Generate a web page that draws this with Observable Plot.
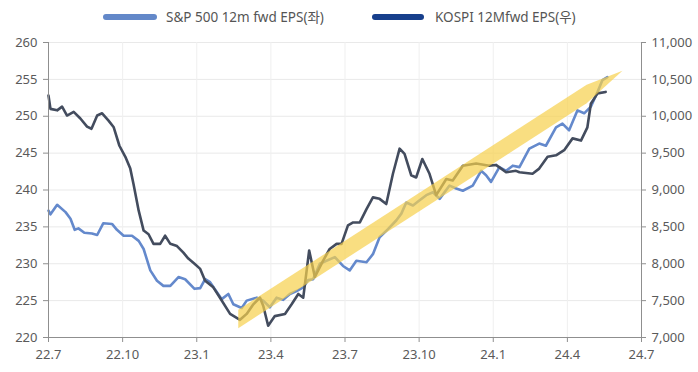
<!DOCTYPE html>
<html><head><meta charset="utf-8">
<script src="https://cdn.jsdelivr.net/npm/d3@7"></script>
<script src="https://cdn.jsdelivr.net/npm/@observablehq/plot@0.6"></script>
<style>
body{margin:0;background:#fff;font-family:"Noto Sans","Noto Sans CJK KR",sans-serif;}
#wrap{position:relative;width:698px;height:372px;overflow:hidden;}
#legend{position:absolute;left:0;top:0;width:698px;height:32px;}
.sw{position:absolute;top:14px;height:6px;border-radius:3px;}
.lt{position:absolute;top:8px;font-size:13.5px;color:#555;line-height:18px;white-space:nowrap;}
#chart{position:absolute;left:0;top:30px;}
</style></head>
<body><div id="wrap"><div id="legend"></div><div id="chart"></div></div>
<script>
// x values: months since 2022-07 (22.7 = 0)
const spMonths = [0,0.08,0.35,0.69,0.89,1.06,1.21,1.45,1.76,1.97,2.22,2.57,2.77,3.04,3.38,3.65,3.85,4.12,4.39,4.65,4.93,5.26,5.53,5.91,6.14,6.34,6.54,7.01,7.28,7.48,7.82,8.02,8.43,8.69,8.96,9.23,9.50,9.77,10.04,10.31,10.51,10.71,10.98,11.25,11.59,11.92,12.19,12.46,12.87,13.13,13.40,13.74,14.08,14.28,14.48,14.75,15.02,15.29,15.56,15.83,16.23,16.50,16.77,17.17,17.51,17.71,17.91,18.25,18.52,18.79,19.06,19.46,19.86,20.13,20.54,20.80,21.07,21.41,21.68,21.95,22.22,22.42,22.62];
const spEPS = [237.2,236.7,238.0,237.0,236.1,234.6,234.8,234.2,234.1,233.9,235.5,235.4,234.6,233.8,233.8,233.1,232.0,229.1,227.7,227.0,227.0,228.2,227.9,226.6,226.7,227.9,227.5,225.2,225.9,224.5,224.0,225.0,225.4,225.0,224.1,225.4,225.1,225.9,226.3,226.8,227.8,227.9,230.0,230.4,230.9,229.7,229.1,230.4,230.2,231.3,233.6,234.7,235.9,236.8,238.3,237.9,238.6,239.3,239.7,238.8,240.6,240.2,239.9,240.6,242.6,242.0,241.1,243.1,242.6,243.3,243.1,245.6,246.3,246.0,248.5,249.0,248.1,250.8,250.4,251.3,253.3,254.9,255.3];
const kospiMonths = [0,0.08,0.35,0.55,0.75,1.02,1.29,1.56,1.74,1.97,2.17,2.43,2.64,2.87,3.11,3.31,3.44,3.65,3.85,4.05,4.25,4.52,4.72,4.93,5.20,5.46,5.66,5.91,6.14,6.34,6.67,6.94,7.35,7.75,8.02,8.29,8.56,8.69,8.89,9.16,9.57,9.84,10.11,10.31,10.55,10.78,11.11,11.38,11.66,11.86,12.12,12.33,12.60,12.87,13.13,13.40,13.67,13.94,14.21,14.41,14.68,14.88,15.13,15.42,15.69,16.10,16.36,16.77,17.31,17.84,18.11,18.52,18.92,19.06,19.59,19.86,20.20,20.54,20.87,21.21,21.55,21.81,21.95,22.22,22.55];
const kospiEPS = [10280,10100,10080,10130,10010,10060,9970,9860,9830,10010,10040,9940,9850,9600,9450,9290,9080,8720,8450,8400,8270,8270,8380,8270,8240,8150,8070,8000,7930,7770,7680,7540,7320,7240,7320,7450,7540,7430,7160,7290,7320,7450,7590,7540,8180,7820,8040,8200,8270,8270,8520,8560,8560,8740,8900,8880,8810,9220,9560,9490,9200,9170,9420,9220,8930,9150,9130,9330,9360,9330,9340,9240,9260,9240,9220,9290,9450,9470,9540,9700,9670,9850,10170,10310,10330];

const tickMonths = [0,3,6,9,12,15,18,21,24];
const tickLabels = ["22.7","22.10","23.1","23.4","23.7","23.10","24.1","24.4","24.7"];
const leftTicks = [220,225,230,235,240,245,250,255,260];
const rightTicks = [7000,7500,8000,8500,9000,9500,10000,10500,11000];

// highlighted uptrend band (in left-axis units)
const trendMonths = [7.7,21.8,23.25];
const trendLo = [221.2,251.7,256.1];
const trendHi = [223.7,254.2,256.1];

const seriesNames = ["S&P 500 12m fwd EPS(좌)","KOSPI 12Mfwd EPS(우)"];
const legendColors = ["#6388c9","#173f8c"];
const lineColors = ["#6489cc","#434c5e"];

// right axis (KOSPI) -> left axis units
const toLeft = k => 220 + (k - 7000) / 100;
const fromLeft = v => 7000 + (v - 220) * 100;

const sp = spMonths.map((m,i)=>({m, v: spEPS[i]}));
const ks = kospiMonths.map((m,i)=>({m, v: toLeft(kospiEPS[i])}));
const band = trendMonths.map((m,i)=>({m, lo: trendLo[i], hi: trendHi[i]}));

const axisColor = "#8f8f8f";
const textColor = "#5a5a5a";
const fmt = d3.format(",");

const chart = Plot.plot({
  width: 698, height: 342,
  marginLeft: 48, marginRight: 57, marginTop: 12, marginBottom: 35,
  style: {fontFamily: '"Noto Sans","Noto Sans CJK KR",sans-serif', fontSize: "13px", color: textColor, background: "white"},
  x: {domain: [0,24], axis: null},
  y: {domain: [220,260], axis: null},
  marks: [
    Plot.gridY(leftTicks, {stroke: "#e9e9e9", strokeOpacity: 1}),
    Plot.gridX(tickMonths, {stroke: "#efefef", strokeOpacity: 1}),
    Plot.line(sp, {x: "m", y: "v", stroke: lineColors[0], strokeWidth: 2.6}),
    Plot.line(ks, {x: "m", y: "v", stroke: lineColors[1], strokeWidth: 2.6}),
    Plot.areaY(band, {x: "m", y1: "lo", y2: "hi", fill: "#f6d04c", fillOpacity: 0.7}),
    Plot.ruleX([0], {stroke: axisColor}),
    Plot.ruleX([24], {stroke: axisColor}),
    Plot.ruleY([220], {stroke: axisColor}),
    Plot.axisY(leftTicks, {anchor: "left", tickSize: 5, tickPadding: 6, stroke: axisColor, fill: textColor, label: null}),
    Plot.axisY(rightTicks.map(toLeft), {anchor: "right", tickSize: 4, tickPadding: 6, stroke: axisColor, fill: textColor, label: null, tickFormat: v => fmt(Math.round(fromLeft(v)))}),
    Plot.axisX(tickMonths, {anchor: "bottom", tickSize: 5, tickPadding: 7, stroke: axisColor, fill: textColor, label: null, tickFormat: d => tickLabels[tickMonths.indexOf(d)]})
  ]
});
document.getElementById("chart").appendChild(chart);

// legend
const lg = document.getElementById("legend");
const legendPos = [{sw: 103, w: 54, tx: 166}, {sw: 372, w: 52, tx: 435}];
seriesNames.forEach((n,i)=>{
  const s = document.createElement("div");
  s.className = "sw";
  s.style.left = legendPos[i].sw + "px";
  s.style.width = legendPos[i].w + "px";
  s.style.background = legendColors[i];
  lg.appendChild(s);
  const t = document.createElement("div");
  t.className = "lt";
  t.style.left = legendPos[i].tx + "px";
  t.textContent = n;
  lg.appendChild(t);
});
</script>
</body></html>
